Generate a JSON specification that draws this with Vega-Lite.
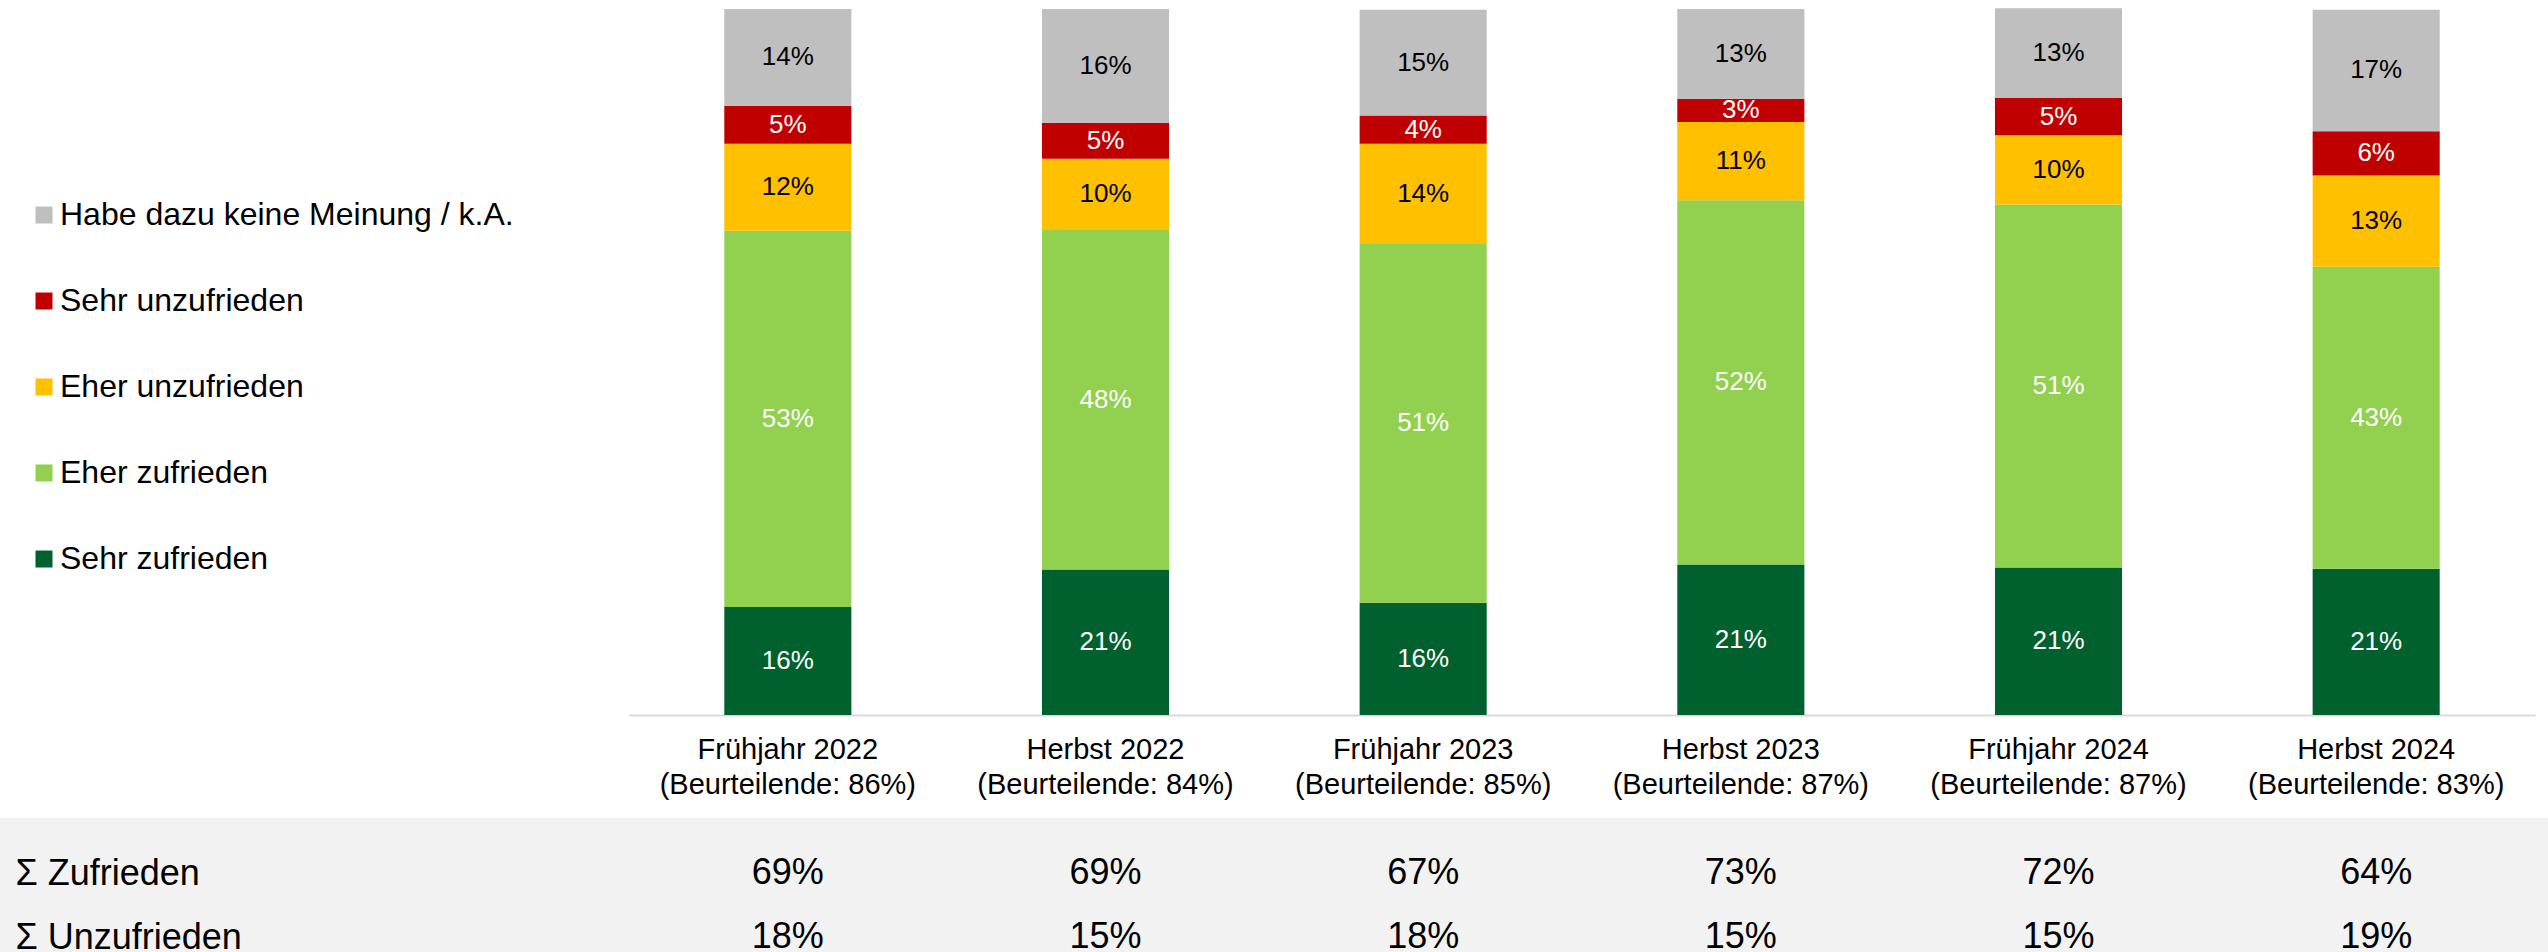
{
  "$schema": "https://vega.github.io/schema/vega-lite/v6.json",
  "padding": {"left": 0, "top": 8, "right": 0, "bottom": 0},
  "background": "white",
  "bounds": "flush",
  "spacing": 103,
  "config": {
    "font": "Liberation Sans",
    "view": {"stroke": null},
    "axis": {"labelColor": "black", "labelFont": "Liberation Sans"},
    "legend": {"labelFont": "Liberation Sans"}
  },
  "datasets": {
    "bars": [
      {"period": "Frühjahr 2022|(Beurteilende: 86%)", "cat": "Sehr zufrieden", "rank": 1, "value": 15.3, "label": "16%"},
      {"period": "Frühjahr 2022|(Beurteilende: 86%)", "cat": "Eher zufrieden", "rank": 2, "value": 53.3, "label": "53%"},
      {"period": "Frühjahr 2022|(Beurteilende: 86%)", "cat": "Eher unzufrieden", "rank": 3, "value": 12.3, "label": "12%"},
      {"period": "Frühjahr 2022|(Beurteilende: 86%)", "cat": "Sehr unzufrieden", "rank": 4, "value": 5.4, "label": "5%"},
      {"period": "Frühjahr 2022|(Beurteilende: 86%)", "cat": "Habe dazu keine Meinung / k.A.", "rank": 5, "value": 13.7, "label": "14%"},
      {"period": "Herbst 2022|(Beurteilende: 84%)", "cat": "Sehr zufrieden", "rank": 1, "value": 20.6, "label": "21%"},
      {"period": "Herbst 2022|(Beurteilende: 84%)", "cat": "Eher zufrieden", "rank": 2, "value": 48.1, "label": "48%"},
      {"period": "Herbst 2022|(Beurteilende: 84%)", "cat": "Eher unzufrieden", "rank": 3, "value": 10.1, "label": "10%"},
      {"period": "Herbst 2022|(Beurteilende: 84%)", "cat": "Sehr unzufrieden", "rank": 4, "value": 5.1, "label": "5%"},
      {"period": "Herbst 2022|(Beurteilende: 84%)", "cat": "Habe dazu keine Meinung / k.A.", "rank": 5, "value": 16.1, "label": "16%"},
      {"period": "Frühjahr 2023|(Beurteilende: 85%)", "cat": "Sehr zufrieden", "rank": 1, "value": 15.9, "label": "16%"},
      {"period": "Frühjahr 2023|(Beurteilende: 85%)", "cat": "Eher zufrieden", "rank": 2, "value": 50.8, "label": "51%"},
      {"period": "Frühjahr 2023|(Beurteilende: 85%)", "cat": "Eher unzufrieden", "rank": 3, "value": 14.2, "label": "14%"},
      {"period": "Frühjahr 2023|(Beurteilende: 85%)", "cat": "Sehr unzufrieden", "rank": 4, "value": 4.0, "label": "4%"},
      {"period": "Frühjahr 2023|(Beurteilende: 85%)", "cat": "Habe dazu keine Meinung / k.A.", "rank": 5, "value": 15.0, "label": "15%"},
      {"period": "Herbst 2023|(Beurteilende: 87%)", "cat": "Sehr zufrieden", "rank": 1, "value": 21.3, "label": "21%"},
      {"period": "Herbst 2023|(Beurteilende: 87%)", "cat": "Eher zufrieden", "rank": 2, "value": 51.6, "label": "52%"},
      {"period": "Herbst 2023|(Beurteilende: 87%)", "cat": "Eher unzufrieden", "rank": 3, "value": 11.1, "label": "11%"},
      {"period": "Herbst 2023|(Beurteilende: 87%)", "cat": "Sehr unzufrieden", "rank": 4, "value": 3.3, "label": "3%"},
      {"period": "Herbst 2023|(Beurteilende: 87%)", "cat": "Habe dazu keine Meinung / k.A.", "rank": 5, "value": 12.7, "label": "13%"},
      {"period": "Frühjahr 2024|(Beurteilende: 87%)", "cat": "Sehr zufrieden", "rank": 1, "value": 20.9, "label": "21%"},
      {"period": "Frühjahr 2024|(Beurteilende: 87%)", "cat": "Eher zufrieden", "rank": 2, "value": 51.4, "label": "51%"},
      {"period": "Frühjahr 2024|(Beurteilende: 87%)", "cat": "Eher unzufrieden", "rank": 3, "value": 9.8, "label": "10%"},
      {"period": "Frühjahr 2024|(Beurteilende: 87%)", "cat": "Sehr unzufrieden", "rank": 4, "value": 5.3, "label": "5%"},
      {"period": "Frühjahr 2024|(Beurteilende: 87%)", "cat": "Habe dazu keine Meinung / k.A.", "rank": 5, "value": 12.7, "label": "13%"},
      {"period": "Herbst 2024|(Beurteilende: 83%)", "cat": "Sehr zufrieden", "rank": 1, "value": 20.7, "label": "21%"},
      {"period": "Herbst 2024|(Beurteilende: 83%)", "cat": "Eher zufrieden", "rank": 2, "value": 42.8, "label": "43%"},
      {"period": "Herbst 2024|(Beurteilende: 83%)", "cat": "Eher unzufrieden", "rank": 3, "value": 12.9, "label": "13%"},
      {"period": "Herbst 2024|(Beurteilende: 83%)", "cat": "Sehr unzufrieden", "rank": 4, "value": 6.3, "label": "6%"},
      {"period": "Herbst 2024|(Beurteilende: 83%)", "cat": "Habe dazu keine Meinung / k.A.", "rank": 5, "value": 17.2, "label": "17%"}
    ],
    "totals": [
      {"period": "Frühjahr 2022|(Beurteilende: 86%)", "row": "Σ Zufrieden", "label": "69%"},
      {"period": "Herbst 2022|(Beurteilende: 84%)", "row": "Σ Zufrieden", "label": "69%"},
      {"period": "Frühjahr 2023|(Beurteilende: 85%)", "row": "Σ Zufrieden", "label": "67%"},
      {"period": "Herbst 2023|(Beurteilende: 87%)", "row": "Σ Zufrieden", "label": "73%"},
      {"period": "Frühjahr 2024|(Beurteilende: 87%)", "row": "Σ Zufrieden", "label": "72%"},
      {"period": "Herbst 2024|(Beurteilende: 83%)", "row": "Σ Zufrieden", "label": "64%"},
      {"period": "Frühjahr 2022|(Beurteilende: 86%)", "row": "Σ Unzufrieden", "label": "18%"},
      {"period": "Herbst 2022|(Beurteilende: 84%)", "row": "Σ Unzufrieden", "label": "15%"},
      {"period": "Frühjahr 2023|(Beurteilende: 85%)", "row": "Σ Unzufrieden", "label": "18%"},
      {"period": "Herbst 2023|(Beurteilende: 87%)", "row": "Σ Unzufrieden", "label": "15%"},
      {"period": "Frühjahr 2024|(Beurteilende: 87%)", "row": "Σ Unzufrieden", "label": "15%"},
      {"period": "Herbst 2024|(Beurteilende: 83%)", "row": "Σ Unzufrieden", "label": "19%"}
    ]
  },
  "vconcat": [
    {
      "width": 2548,
      "height": 706,
      "data": {"name": "bars"},
      "transform": [
        {"stack": "value", "groupby": ["period"], "sort": [{"field": "rank", "order": "ascending"}], "as": ["v0", "v1"]},
        {"calculate": "(datum.v0 + datum.v1) / 2", "as": "mid"}
      ],
      "encoding": {
        "x": {
          "field": "period", "type": "nominal",
          "scale": {
            "domain": ["Frühjahr 2022|(Beurteilende: 86%)", "Herbst 2022|(Beurteilende: 84%)", "Frühjahr 2023|(Beurteilende: 85%)", "Herbst 2023|(Beurteilende: 87%)", "Frühjahr 2024|(Beurteilende: 87%)", "Herbst 2024|(Beurteilende: 83%)"],
            "range": [629, 2535], "paddingInner": 0.6, "paddingOuter": 0.3
          },
          "axis": {
            "title": null, "labelAngle": 0, "ticks": false, "domain": true,
            "domainColor": "#d9d9d9", "domainWidth": 2,
            "labelFontSize": 29, "labelLineHeight": 35, "labelPadding": 20,
            "labelLimit": 0, "labelExpr": "split(datum.label, '|')", "grid": false
          }
        }
      },
      "layer": [
        {
          "mark": {"type": "bar"},
          "encoding": {
            "y": {"field": "v0", "type": "quantitative", "scale": {"domain": [0, 100]}, "axis": null},
            "y2": {"field": "v1"},
            "color": {
              "field": "cat", "type": "nominal",
              "scale": {
                "domain": ["Habe dazu keine Meinung / k.A.", "Sehr unzufrieden", "Eher unzufrieden", "Eher zufrieden", "Sehr zufrieden"],
                "range": ["#bfbfbf", "#c00000", "#ffc000", "#92d050", "#00612e"]
              },
              "legend": {
                "title": null, "orient": "none", "legendX": 28, "legendY": 190,
                "symbolType": "square", "symbolSize": 289, "symbolStrokeWidth": 0,
                "labelFontSize": 32, "labelOffset": 0, "rowPadding": 54,
                "labelColor": "black", "labelLimit": 0, "padding": 0
              }
            }
          }
        },
        {
          "mark": {"type": "text", "fontSize": 26, "baseline": "middle", "align": "center"},
          "encoding": {
            "y": {"field": "mid", "type": "quantitative", "scale": {"domain": [0, 100]}, "axis": null},
            "text": {"field": "label"},
            "color": {
              "condition": {"test": "datum.cat === 'Habe dazu keine Meinung / k.A.' || datum.cat === 'Eher unzufrieden'", "value": "#000000"},
              "value": "#ffffff"
            }
          }
        }
      ]
    },
    {
      "width": 2548,
      "height": 135,
      "view": {"fill": "#f2f2f2", "stroke": null},
      "data": {"name": "totals"},
      "mark": {"type": "text", "fontSize": 36, "baseline": "alphabetic", "align": "center", "color": "#000000"},
      "encoding": {
        "x": {
          "field": "period", "type": "nominal",
          "scale": {
            "type": "band",
            "domain": ["Frühjahr 2022|(Beurteilende: 86%)", "Herbst 2022|(Beurteilende: 84%)", "Frühjahr 2023|(Beurteilende: 85%)", "Herbst 2023|(Beurteilende: 87%)", "Frühjahr 2024|(Beurteilende: 87%)", "Herbst 2024|(Beurteilende: 83%)"],
            "range": [629, 2535], "paddingInner": 0.6, "paddingOuter": 0.3
          },
          "axis": null
        },
        "y": {
          "field": "row", "type": "nominal",
          "scale": {"type": "point", "domain": ["Σ Zufrieden", "Σ Unzufrieden"], "range": [66, 130], "padding": 0},
          "axis": {
            "title": null, "orient": "left", "domain": false, "ticks": false, "grid": false,
            "labelAlign": "left", "labelBaseline": "alphabetic", "labelPadding": -15,
            "labelFontSize": 36, "labelLimit": 0
          }
        },
        "text": {"field": "label"}
      }
    }
  ]
}
